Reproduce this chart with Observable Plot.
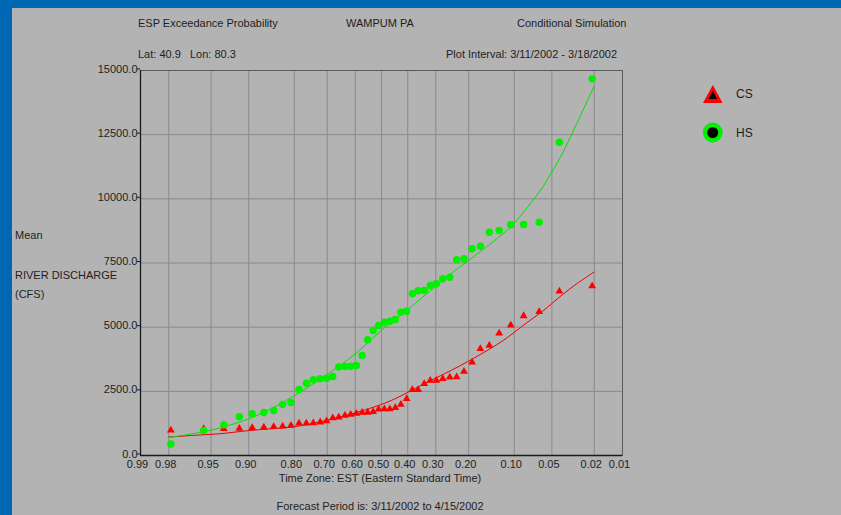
<!DOCTYPE html>
<html><head><meta charset="utf-8">
<script src="https://cdn.jsdelivr.net/npm/d3@7"></script>
<script src="https://cdn.jsdelivr.net/npm/@observablehq/plot@0.6"></script>
<style>
html,body{margin:0;padding:0;}
body{width:841px;height:515px;background:#0068b3;position:relative;overflow:hidden;font-family:"Liberation Sans",Arial,sans-serif;}
#panel{position:absolute;left:12px;top:8px;right:0;bottom:0;background:#b3b3b3;}
#chart{position:absolute;left:0;top:0;}
.t{position:absolute;font-size:11px;color:#1e1e1e;white-space:nowrap;line-height:1;}
.c{transform:translateX(-50%);}
#legend{position:absolute;left:0;top:0;}
</style></head><body>
<div id="panel"></div>
<div id="chart"></div>
<div class="t" style="left:138px;top:18px">ESP Exceedance Probability</div>
<div class="t" style="left:346px;top:18px">WAMPUM PA</div>
<div class="t" style="left:517px;top:18px">Conditional Simulation</div>
<div class="t" style="left:138px;top:49px">Lat: 40.9&nbsp;&nbsp;&nbsp;Lon: 80.3</div>
<div class="t" style="left:446px;top:49px">Plot Interval: 3/11/2002 - 3/18/2002</div>
<div class="t" style="left:15px;top:230px">Mean</div>
<div class="t" style="left:15px;top:270px">RIVER DISCHARGE</div>
<div class="t" style="left:15px;top:289px">(CFS)</div>
<div class="t c" style="left:380px;top:473px">Time Zone: EST (Eastern Standard Time)</div>
<div class="t c" style="left:380px;top:501px">Forecast Period is: 3/11/2002 to 4/15/2002</div>
<svg id="legend" width="841" height="515" style="pointer-events:none">
  <polygon points="712.8,85 703,103 722.6,103" fill="#ff0000"/>
  <polygon points="712.8,91 708.5,99 717.1,99" fill="#000"/>
  <text x="736" y="98" font-size="12" fill="#1e1e1e" font-family="Liberation Sans, Arial, sans-serif">CS</text>
  <circle cx="712.7" cy="132.5" r="10" fill="#00f000"/>
  <circle cx="712.7" cy="132.5" r="5.5" fill="#000"/>
  <text x="736" y="137" font-size="12" fill="#1e1e1e" font-family="Liberation Sans, Arial, sans-serif">HS</text>
</svg>
<script>
// ---- data ----
// exceedance probabilities (plotting positions) of the ranked values
const exceedProb = [0.979,0.957,0.936,0.915,0.894,0.872,0.851,0.830,0.809,0.787,0.766,0.745,0.723,0.702,0.681,0.660,0.638,0.617,0.596,0.574,0.553,0.532,0.511,0.489,0.468,0.447,0.426,0.404,0.383,0.362,0.340,0.319,0.298,0.277,0.255,0.234,0.213,0.191,0.170,0.149,0.128,0.106,0.085,0.064,0.043,0.021];
// HS (historical simulation) values, cfs
const hsValues = [450,975,1195,1510,1625,1675,1755,1985,2065,2570,2815,2950,2990,3010,3080,3450,3470,3480,3505,3895,4510,4870,5065,5195,5230,5300,5585,5620,6300,6420,6430,6625,6690,6885,6945,7625,7665,8055,8155,8700,8765,8990,9000,9090,12205,14675];
// CS (conditional simulation) values, cfs
const csValues = [980,1040,1045,1050,1080,1100,1120,1135,1170,1255,1260,1265,1300,1340,1460,1490,1560,1600,1640,1675,1680,1700,1805,1810,1815,1860,1990,2210,2560,2565,2795,2920,2925,2990,3050,3055,3270,3635,4155,4285,4765,5075,5440,5600,6400,6600];
// fitted curves
const curveProb = [0.98,0.96,0.94,0.90,0.85,0.80,0.75,0.70,0.65,0.60,0.55,0.50,0.45,0.40,0.35,0.30,0.25,0.20,0.15,0.12,0.10,0.08,0.06,0.05,0.04,0.03,0.02];
const hsCurve = [700,900,1080,1430,1880,2330,2750,3150,3550,3960,4420,4880,5280,5680,6130,6600,7100,7600,8200,8650,9050,9650,10450,11050,11800,12900,14400];
const csCurve = [720,800,850,970,1050,1120,1240,1380,1520,1660,1820,1990,2200,2460,2740,3020,3320,3680,4130,4480,4800,5180,5620,5920,6280,6680,7150];
// axis ticks
const probTicks = [0.99,0.98,0.95,0.90,0.80,0.70,0.60,0.50,0.40,0.30,0.20,0.10,0.05,0.02,0.01];
const yTicks = [0,2500,5000,7500,10000,12500,15000];

// inverse normal CDF (Acklam)
function qnorm(p){
  const a=[-3.969683028665376e+01,2.209460984245205e+02,-2.759285104469687e+02,1.383577518672690e+02,-3.066479806614716e+01,2.506628277459239e+00];
  const b=[-5.447609879822406e+01,1.615858368580409e+02,-1.556989798598866e+02,6.680131188771972e+01,-1.328068155288572e+01];
  const c=[-7.784894002430293e-03,-3.223964580411365e-01,-2.400758277161838e+00,-2.549732539343734e+00,4.374664141464968e+00,2.938163982698783e+00];
  const d=[7.784695709041462e-03,3.224671290700398e-01,2.445134137142996e+00,3.754408661907416e+00];
  const pl=0.02425, ph=1-pl; let q,r;
  if(p<pl){q=Math.sqrt(-2*Math.log(p));return (((((c[0]*q+c[1])*q+c[2])*q+c[3])*q+c[4])*q+c[5])/((((d[0]*q+d[1])*q+d[2])*q+d[3])*q+1);}
  if(p<=ph){q=p-0.5;r=q*q;return (((((a[0]*r+a[1])*r+a[2])*r+a[3])*r+a[4])*r+a[5])*q/(((((b[0]*r+b[1])*r+b[2])*r+b[3])*r+b[4])*r+1);}
  q=Math.sqrt(-2*Math.log(1-p));return -(((((c[0]*q+c[1])*q+c[2])*q+c[3])*q+c[4])*q+c[5])/((((d[0]*q+d[1])*q+d[2])*q+d[3])*q+1);
}
const zx = p => qnorm(1 - p); // exceedance probability -> normal-probability position

const hs = exceedProb.map((p,i)=>({p, v: hsValues[i]}));
const cs = exceedProb.map((p,i)=>({p, v: csValues[i]}));
const hsFit = curveProb.map((p,i)=>({p, v: hsCurve[i]}));
const csFit = curveProb.map((p,i)=>({p, v: csCurve[i]}));
const zTicks = probTicks.map(zx);
const tickLabel = v => probTicks[zTicks.indexOf(v)].toFixed(2);

const chart = Plot.plot({
  width: 841, height: 515,
  marginLeft: 140, marginRight: 219, marginTop: 70, marginBottom: 60,
  style: {background: "transparent", fontFamily: "Liberation Sans, Arial, sans-serif", fontSize: "11px", color: "#1e1e1e", overflow: "visible"},
  x: {domain: [zx(0.99), zx(0.01)], label: null},
  y: {domain: [0, 15000], label: null},
  marks: [
    Plot.gridX(zTicks, {stroke: "#8a8a8a", strokeOpacity: 1, strokeWidth: 1}),
    Plot.gridY(yTicks, {stroke: "#8a8a8a", strokeOpacity: 1, strokeWidth: 1}),
    Plot.frame({stroke: "#5a5a5a"}),
    Plot.ruleY([0], {stroke: "#1a1a1a", strokeWidth: 1.3}),
    Plot.ruleX([0.99], {x: zx, stroke: "#1a1a1a", strokeWidth: 1.3}),
    Plot.axisY(yTicks, {tickFormat: d => d.toFixed(1), tickSize: 3, tickPadding: 0, dy: -1.5, stroke: "#1a1a1a", fill: "#1e1e1e", label: null}),
    Plot.axisX(zTicks, {tickFormat: tickLabel, tickSize: 0, tickPadding: 3, dx: -3, dy: 1.5, fill: "#1e1e1e", label: null}),
    Plot.line(csFit, {x: d => zx(d.p), y: "v", stroke: "#ee0000", strokeWidth: 1, curve: "catmull-rom"}),
    Plot.line(hsFit, {x: d => zx(d.p), y: "v", stroke: "#00e000", strokeWidth: 1, curve: "catmull-rom"}),
    Plot.dot(cs, {x: d => zx(d.p), y: "v", symbol: "triangle", r: 2.9, fill: "#ff0000", stroke: "none"}),
    Plot.dot(hs, {x: d => zx(d.p), y: "v", r: 3.7, fill: "#00f000", stroke: "none"})
  ]
});
document.getElementById("chart").appendChild(chart);
</script>
</body></html>
